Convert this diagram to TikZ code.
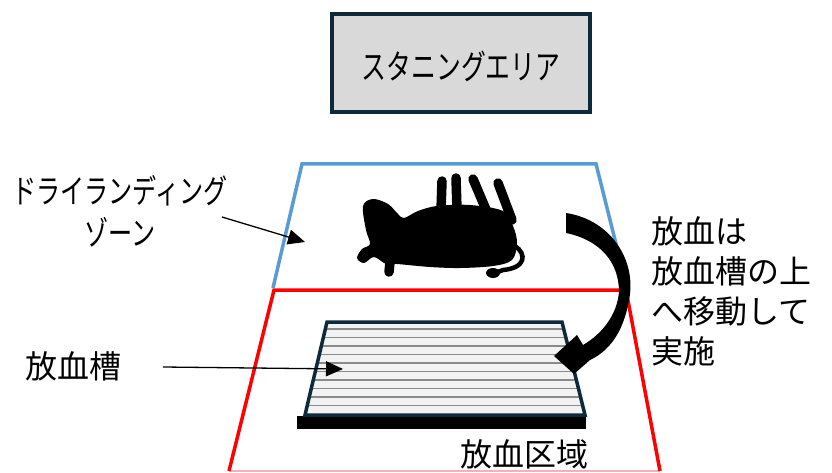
\documentclass[tikz,border=0pt]{standalone}
\usepackage{fontspec}
\usepackage{graphicx}
\setmainfont{Noto Sans CJK JP}
\usetikzlibrary{arrows.meta}
\definecolor{boxline}{HTML}{0E2A3A}
\definecolor{boxfill}{HTML}{D9D9D9}
\definecolor{zoneblue}{HTML}{5B9BD5}
\definecolor{zonered}{HTML}{FF0000}
\definecolor{zonepink}{HTML}{F6B2B2}
\definecolor{troughfill}{HTML}{F2F2F2}
\definecolor{stripe}{HTML}{8A8A8A}
\tikzset{
  stagebox/.style={draw=boxline, fill=boxfill, line width=3.5pt},
  zoneline/.style={line width=3.5pt, line join=miter},
  pointer/.style={draw=black, line width=1.3pt, -{Triangle[length=17pt,width=15pt]}},
  kana/.style={inner sep=0pt, font=\fontsize{34}{42}\selectfont, text=black},
  kanji/.style={inner sep=0pt, font=\fontsize{32}{40}\selectfont, text=black},
  leg/.style={line width=9.5pt, line cap=round},
}
\newcommand{\narrow}[1]{\scalebox{0.73}[1]{#1}}
\begin{document}
\begin{tikzpicture}[x=1pt,y=-1pt]
\useasboundingbox (0,0) rectangle (832,473);

% staging area box
\draw[stagebox] (332,14) rectangle (590,112);
\node[kana] (stage) at (461,66) {\narrow{スタニングエリア}};

% bleeding area (red) and dry landing zone (blue)
\draw[zonepink, line width=1.5pt] (229,471) -- (660,471);
\draw[zonered, zoneline] (229,471) -- (274,290) -- (626,290) -- (660,471);
\draw[zoneblue, zoneline] (273,288) -- (302,164) -- (596,164) -- (627,288);

% bleeding trough
\fill[black] (297,416) rectangle (586,429);
\path[fill=troughfill] (327,322) -- (562,322) -- (585,415) -- (305,415) -- cycle;
\begin{scope}
  \clip (327,322) -- (562,322) -- (585,415) -- (305,415) -- cycle;
  \foreach \yy in {329,337.5,...,412} {
    \draw[stripe, line width=1.8pt] (290,\yy) -- (600,\yy);
  }
\end{scope}
\draw[boxline, line width=3.5pt, line join=miter] (327,322) -- (562,322) -- (585,415) -- (305,415) -- cycle;
\coordinate (trough) at (343,369);

% animal lying on its back
\begin{scope}[black]
  \fill plot[smooth cycle, tension=0.55] coordinates {
    (363,206) (373,199) (388,204) (398,214) (404,218) (418,211) (437,206)
    (470,205) (503,211) (513,226) (517,243) (512,260) (493,266) (460,268)
    (430,267) (397,264) (386,264) (374,257) (364,263) (357,258) (362,249)
    (370,244) (366,230)};
  \draw[leg] (390,262) -- (389,272);
  \draw[leg] (442,181) -- (441,210);
  \draw[leg] (456,178) -- (457,210);
  \draw[leg] (473,179) -- (487,212);
  \draw[leg] (498,183) -- (512,220);
  \draw[line width=4.5pt, line cap=round] (515,246) .. controls (527,254) and (526,268) .. (503,270)
    -- (495,273);
  \fill (493,273) ellipse (7 and 5);
\end{scope}
\coordinate (animal) at (305,242);

% curved transfer arrow
\fill[black] (566,213) .. controls (612,220) and (637,262) .. (629,300)
  .. controls (623,335) and (607,352) .. (590,360)
  -- (574,374) -- (554,356) -- (577,335) -- (583,345)
  .. controls (602,334) and (617,315) .. (619,292)
  .. controls (619,262) and (600,240) .. (566,233) -- cycle;

% labels
\node[kana, align=center, font=\fontsize{33}{42}\selectfont] (dry) at (120,211)
  {\narrow{ドライランディング}\\\narrow{ゾーン}};
\coordinate (dryfoot) at (222,217);
\draw[pointer] (dryfoot) -- (animal);

\node[kanji, anchor=west] (tank) at (25,366) {放血槽};
\coordinate (tankfoot) at (163,367);
\draw[pointer] (tankfoot) -- (trough);

\node[kanji, anchor=west, align=left] (note) at (651,291)
  {放血は\\放血槽の上\\へ移動して\\実施};

\node[kanji] (area) at (524,454) {放血区域};
\end{tikzpicture}
\end{document}
